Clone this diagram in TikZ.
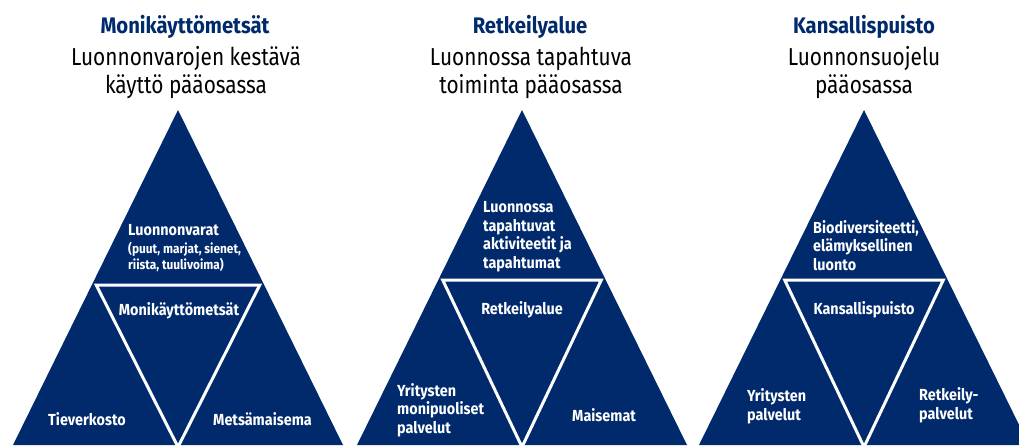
\documentclass[tikz,border=0pt]{standalone}
\usepackage{fontspec}
\setmainfont{Fira Sans}[FakeStretch=0.85]
\newfontfamily\boldfam{Fira Sans}[FakeStretch=0.9]
\definecolor{navy}{RGB}{0,42,108}
\begin{document}
\begin{tikzpicture}[x=1pt,y=-1pt,
  tri/.style={fill=navy},
  innertri/.style={draw=white,line width=3pt,line join=miter},
  ttl/.style={text=navy,font=\boldfam\bfseries\fontsize{22.5}{26}\selectfont,inner sep=0,anchor=base},
  sub/.style={text=black,font=\fontsize{24.5}{28}\selectfont,inner sep=0,anchor=base},
  lbl/.style={text=white,font=\boldfam\bfseries\fontsize{16}{18.5}\selectfont,inner sep=0,align=left,anchor=base west},
  sml/.style={text=white,font=\boldfam\bfseries\fontsize{13.2}{16}\selectfont,inner sep=0,align=left,anchor=base west}]
\useasboundingbox (0,0) rectangle (1019,445);
\clip (0,0) rectangle (1019,445);
% triangles
\foreach \ax/\iy in {178/285,522/280,864/280}{
  \fill[tri] (\ax,110) -- (\ax+165,445) -- (\ax-165,445) -- cycle;
  \pgfmathsetmacro{\hw}{0.49*(\iy-110)-4}
  \draw[innertri] (\ax-\hw,\iy) -- (\ax+\hw,\iy) -- (\ax,447) -- cycle;
}
% titles
\node[ttl] (t1) at (185,33) {Monikäyttömetsät};
\node[sub] (s1a) at (186,65) {Luonnonvarojen kestävä};
\node[sub] (s1b) at (186,93) {käyttö pääosassa};
\node[ttl] (t2) at (530,33) {Retkeilyalue};
\node[sub] (s2a) at (531,65) {Luonnossa tapahtuva};
\node[sub] (s2b) at (531,93) {toiminta pääosassa};
\node[ttl] (t3) at (864,33) {Kansallispuisto};
\node[sub] (s3a) at (864,65) {Luonnonsuojelu};
\node[sub] (s3b) at (864,93) {pääosassa};
% triangle 1
\node[lbl] (a1) at (128,235) {Luonnonvarat};
\node[sml] (a1s) at (128,269) {(puut, marjat, sienet,\\riista, tuulivoima)};
\node[lbl,anchor=base] (a2) at (179,315) {Monikäyttömetsät};
\node[lbl] (a3) at (48,425) {Tieverkosto};
\node[lbl] (a4) at (213,425) {Metsämaisema};
% triangle 2
\node[lbl] (b1) at (483,268) {Luonnossa\\tapahtuvat\\aktiviteetit ja\\tapahtumat};
\node[lbl,anchor=base] (b2) at (522,314) {Retkeilyalue};
\node[lbl] (b3) at (397,433) {Yritysten\\monipuoliset\\palvelut};
\node[lbl] (b4) at (572,421) {Maisemat};
% triangle 3
\node[lbl] (c1) at (813,270) {Biodiversiteetti,\\elämyksellinen\\luonto};
\node[lbl,anchor=base] (c2) at (864,314) {Kansallispuisto};
\node[lbl] (c3) at (747,420) {Yritysten\\palvelut};
\node[lbl] (c4) at (919,419) {Retkeily-\\palvelut};
\end{tikzpicture}
\end{document}
